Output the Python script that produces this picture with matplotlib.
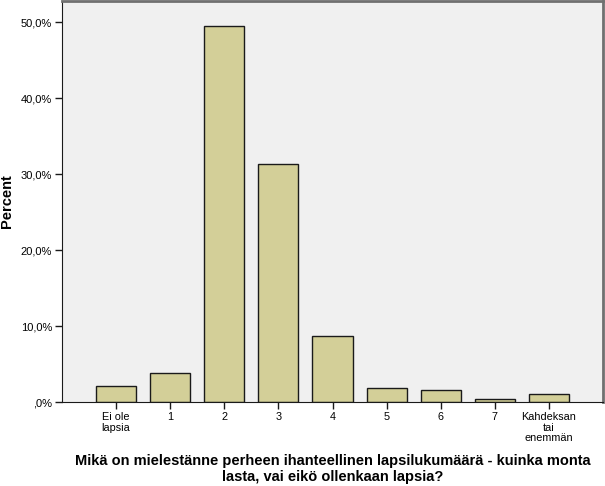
import matplotlib
matplotlib.use('Agg')
import matplotlib.pyplot as plt

plt.rcParams['font.family'] = ['Liberation Sans', 'DejaVu Sans']

categories = ['Ei ole\nlapsia', '1', '2', '3', '4', '5', '6', '7', 'Kahdeksan\ntai\nenemmän']
percent = [2.1, 3.8, 49.5, 31.3, 8.7, 1.85, 1.6, 0.4, 1.05]
ytick_vals = [0, 10, 20, 30, 40, 50]
ytick_labels = [',0%', '10,0%', '20,0%', '30,0%', '40,0%', '50,0%']

fig = plt.figure(figsize=(6.05, 4.86), dpi=100)
ax = fig.add_axes([62 / 605, 84 / 486, 541 / 605, 401 / 486])
ax.set_facecolor('#f0f0f0')

x = list(range(len(categories)))
ax.bar(x, percent, width=0.74, color='#d3cf98', edgecolor='#1a1a1a', linewidth=1.0, zorder=2)

ax.set_xlim(-1, 9)
ax.set_ylim(0, 52.8)
ax.set_xticks(x)
ax.set_xticklabels(categories, fontsize=7.8, linespacing=1.1)
ax.set_yticks(ytick_vals)
ax.set_yticklabels(ytick_labels, fontsize=8)
ax.tick_params(axis='both', direction='out', length=5, width=1, color='#1a1a1a', pad=2)

for side in ['left', 'bottom']:
    ax.spines[side].set_color('#1a1a1a')
for side in ['top', 'right']:
    ax.spines[side].set_color('#707070')
    ax.spines[side].set_linewidth(2)

ax.set_ylabel('Percent', fontsize=10.5, fontweight='bold', labelpad=5)
ax.set_xlabel('Mikä on mielestänne perheen ihanteellinen lapsilukumäärä - kuinka monta\nlasta, vai eikö ollenkaan lapsia?',
              fontsize=10.5, fontweight='bold', linespacing=1.15, labelpad=8)

fig.savefig('out.png', dpi=100)
